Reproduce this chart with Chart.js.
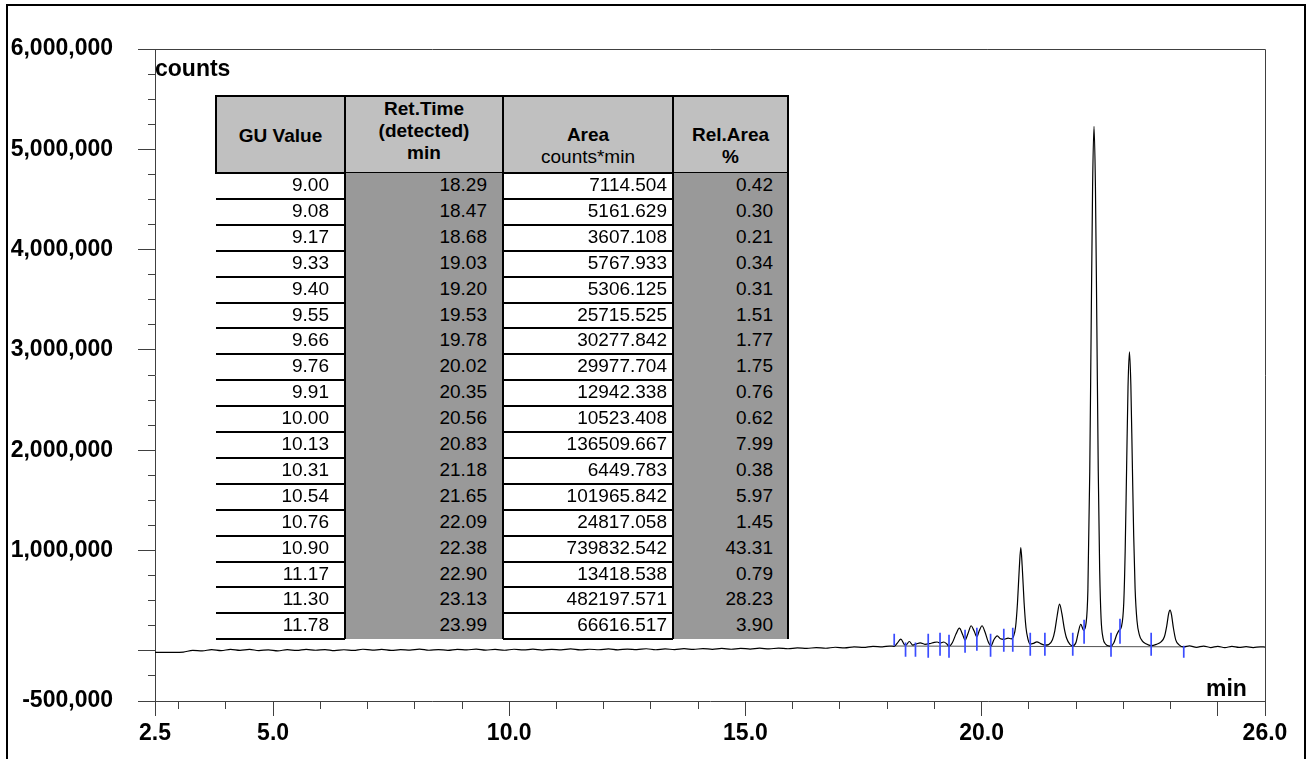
<!DOCTYPE html>
<html><head><meta charset="utf-8">
<script src="https://cdn.jsdelivr.net/npm/chart.js@4/dist/chart.umd.min.js"></script>
<style>
html,body{margin:0;padding:0;background:#fff;}
#wrap{position:relative;width:1308px;height:759px;overflow:hidden;font-family:"Liberation Sans",Arial,sans-serif;color:#000;}
#c{position:absolute;left:0;top:0;}
#frame{position:absolute;left:6px;top:4px;width:1300px;height:770px;border:2px solid #000;box-sizing:border-box;pointer-events:none;}
.ttl{position:absolute;font-weight:bold;font-size:23px;line-height:23px;white-space:nowrap;}
.abs{position:absolute;box-sizing:border-box;}
.hd{background:#c0c0c0;border:2px solid #000;font-weight:bold;font-size:19px;text-align:center;}
.hd div{height:22px;line-height:22px;white-space:nowrap;}
.cell{font-size:19px;text-align:right;white-space:nowrap;}
</style>
</head><body>
<div id="wrap">
<canvas id="c" width="1308" height="759"></canvas>
<div id="tbl"></div>
<div class="ttl" style="left:155px;top:57px;">counts</div>
<div class="ttl" style="left:1206px;top:677px;">min</div>
<div id="frame"></div>
</div>
<script>
// ---------- data ----------
const traceTime = [2.5,2.9,3.1,3.3,3.5,3.7,3.9,4.1,4.3,4.5,4.7,4.9,5.1,5.3,5.5,5.7,5.9,6.1,6.3,6.5,6.7,6.9,7.1,7.3,7.5,7.7,7.9,8.1,8.3,8.5,8.7,8.9,9.1,9.3,9.5,9.7,9.9,10.1,10.3,10.5,10.7,10.9,11.1,11.3,11.5,11.7,11.9,12.1,12.3,12.5,12.7,12.9,13.1,13.3,13.5,13.7,13.9,14.1,14.3,14.5,14.7,14.9,15.1,15.3,15.5,15.7,15.9,16.1,16.3,16.5,16.7,16.9,17.1,17.3,17.5,17.7,17.9,18.05,18.15,18.22,18.29,18.36,18.40,18.47,18.54,18.62,18.70,18.80,18.90,19.00,19.06,19.12,19.20,19.26,19.31,19.38,19.46,19.53,19.60,19.65,19.71,19.78,19.84,19.90,19.95,20.01,20.07,20.14,20.20,20.26,20.33,20.40,20.47,20.56,20.63,20.68,20.72,20.76,20.80,20.83,20.86,20.90,20.94,20.98,21.03,21.10,21.17,21.25,21.34,21.42,21.50,21.55,21.60,21.65,21.70,21.75,21.80,21.87,21.93,22.00,22.05,22.10,22.16,22.21,22.25,22.29,22.32,22.35,22.38,22.41,22.44,22.47,22.50,22.53,22.57,22.63,22.69,22.74,22.80,22.86,22.91,22.96,23.01,23.04,23.07,23.10,23.13,23.16,23.19,23.22,23.25,23.29,23.34,23.40,23.48,23.59,23.70,23.80,23.87,23.92,23.96,23.99,24.02,24.06,24.11,24.18,24.28,24.40,24.55,24.70,24.85,25.00,25.15,25.30,25.45,25.60,25.75,25.90,26.00];
const traceCounts = [-15000,-15000,-12000,5000,0,12000,2000,15000,5000,14000,3000,10000,0,12000,4000,15000,6000,13000,2000,11000,5000,16000,7000,14000,4000,12000,8000,17000,6000,13000,5000,15000,9000,18000,8000,14000,6000,16000,9000,17000,8000,15000,10000,19000,9000,16000,11000,20000,10000,18000,12000,21000,11000,19000,13000,22000,14000,23000,15000,24000,16000,25000,18000,27000,19000,28000,21000,30000,24000,33000,26000,36000,30000,40000,34000,45000,40000,48000,45000,80000,117000,65000,58000,93000,58000,70000,80000,65000,72000,85000,88000,77000,88000,70000,45000,80000,170000,227000,160000,107000,170000,250000,200000,140000,200000,250000,190000,90000,50000,110000,150000,120000,115000,127000,120000,150000,240000,480000,840000,1030000,840000,480000,230000,120000,67000,75000,90000,72000,57000,62000,110000,200000,350000,465000,370000,225000,125000,65000,50000,85000,190000,265000,205000,270000,600000,1790000,3240000,4630000,5230000,4630000,3240000,1790000,800000,320000,130000,65000,50000,48000,80000,160000,205000,240000,480000,1000000,1820000,2630000,2980000,2650000,1900000,1150000,620000,300000,160000,100000,70000,52000,65000,90000,140000,250000,370000,405000,360000,230000,110000,60000,40000,50000,35000,48000,33000,45000,32000,44000,34000,42000,33000,40000,38000];

// integration markers (peak start / end ticks)
const markerTime   = [18.15,18.39,18.60,18.87,19.12,19.31,19.65,19.90,20.19,20.47,20.66,21.03,21.34,21.93,22.17,22.74,22.93,23.59,24.28];
const markerTop    = [170000,83000,83000,170000,180000,160000,210000,230000,170000,220000,230000,180000,180000,180000,310000,180000,320000,180000,50000];
const markerBottom = [50000,-60000,-60000,-70000,-50000,-70000,-20000,0,-60000,-10000,-10000,-50000,-50000,-50000,70000,-60000,70000,-50000,-70000];

// drawn integration baseline
const baselineTime   = [18.15, 24.28];
const baselineCounts = [48000, 40000];

// axis ticks
const xTickValues  = [2.5,3,4,5,6,7,8,9,10,11,12,13,14,15,16,17,18,19,20,21,22,23,24,25,26];
const xLabelValues = [2.5,5,10,15,20,26];
const xLongValues  = [2.5,5,10,15,20,25,26];
const yTickValues  = [-500000,-250000,0,250000,500000,750000,1000000,1250000,1500000,1750000,2000000,2250000,2500000,2750000,3000000,3250000,3500000,3750000,4000000,4250000,4500000,4750000,5000000,5250000,5500000,5750000,6000000];
const yLabelValues = [-500000,1000000,2000000,3000000,4000000,5000000,6000000];
const yLongValues  = [-500000,0,1000000,2000000,3000000,4000000,5000000,6000000];

// peak table
const guValues  = [9.00,9.08,9.17,9.33,9.40,9.55,9.66,9.76,9.91,10.00,10.13,10.31,10.54,10.76,10.90,11.17,11.30,11.78];
const retTimes  = [18.29,18.47,18.68,19.03,19.20,19.53,19.78,20.02,20.35,20.56,20.83,21.18,21.65,22.09,22.38,22.90,23.13,23.99];
const areas     = [7114.504,5161.629,3607.108,5767.933,5306.125,25715.525,30277.842,29977.704,12942.338,10523.408,136509.667,6449.783,101965.842,24817.058,739832.542,13418.538,482197.571,66616.517];
const relAreas  = [0.42,0.30,0.21,0.34,0.31,1.51,1.77,1.75,0.76,0.62,7.99,0.38,5.97,1.45,43.31,0.79,28.23,3.90];

// ---------- table (HTML text) ----------
(function(){
  const tbl = document.getElementById('tbl');
  const cols = [
    {x:216,w:129,gray:false,pad:16,padTop:6,head:['','GU Value',''],bold:[1,1,1],fmt:v=>v.toFixed(2),vals:guValues},
    {x:345,w:158,gray:true, pad:16,padTop:1,head:['Ret.Time','(detected)','min'],bold:[1,1,1],fmt:v=>v.toFixed(2),vals:retTimes},
    {x:503,w:170,gray:false,pad:6, padTop:5,head:['','Area','counts*min'],bold:[1,1,0],fmt:v=>v.toFixed(3),vals:areas},
    {x:673,w:115,gray:true, pad:15,padTop:5,head:['','Rel.Area','%'],bold:[1,1,1],fmt:v=>v.toFixed(2),vals:relAreas}
  ];
  const top=95, headH=79, bodyTop=173, rowH=25.9, n=guValues.length;
  const bodyBottom = bodyTop + rowH*n;
  let html='';
  cols.forEach(c=>{
    html += `<div class="abs hd" style="left:${c.x-1}px;top:${top}px;width:${c.w+2}px;height:${headH}px;padding-top:${c.padTop}px;">` +
      c.head.map((t,i)=>`<div style="font-weight:${c.bold[i]?'bold':'normal'}">${t}</div>`).join('') + '</div>';
    if (c.gray) {
      html += `<div class="abs" style="left:${c.x}px;top:${bodyTop}px;width:${c.w}px;height:${bodyBottom-bodyTop}px;background:#999999;"></div>`;
    }
    c.vals.forEach((v,i)=>{
      const y = bodyTop + rowH*i;
      html += `<div class="abs cell" style="left:${c.x}px;top:${y-1}px;width:${c.w}px;height:${rowH}px;line-height:${rowH}px;padding-right:${c.pad}px;">${c.fmt(v)}</div>`;
      if (!c.gray) {
        html += `<div class="abs" style="left:${c.x}px;top:${y+rowH-1}px;width:${c.w}px;height:2px;background:#000;"></div>`;
      }
    });
  });
  [345,503,673,788].forEach(x=>{
    html += `<div class="abs" style="left:${x-1}px;top:${top}px;width:2px;height:${bodyBottom-top}px;background:#000;"></div>`;
  });
  tbl.innerHTML = html;
})();

// ---------- chart ----------
const tracePts = traceTime.map((t,i)=>({x:t,y:traceCounts[i]}));
const markerPts = [];
markerTime.forEach((t,i)=>{ markerPts.push({x:t,y:markerTop[i]},{x:t,y:markerBottom[i]},{x:t,y:null}); });
const basePts = baselineTime.map((t,i)=>({x:t,y:baselineCounts[i]}));

const fmtComma = v => { const s = Math.abs(v).toString().replace(/\B(?=(\d{3})+(?!\d))/g, ','); return (v<0?'-':'')+s; };
const axisFont = {family:'"Liberation Sans", Arial, sans-serif', size:23, weight:'bold'};
const axisCol = '#404040';

const boxPlugin = {
  id:'box',
  afterDraw(chart){
    const {ctx, chartArea:a} = chart;
    ctx.save();
    ctx.strokeStyle = axisCol; ctx.lineWidth = 1;
    ctx.beginPath();
    ctx.moveTo(a.left, a.top+0.5); ctx.lineTo(a.right+0.5, a.top+0.5);
    ctx.lineTo(a.right+0.5, a.bottom);
    ctx.stroke();
    ctx.restore();
  }
};

new Chart(document.getElementById('c'), {
  type:'line',
  data:{datasets:[
    {data:markerPts, borderColor:'#3a4cff', borderWidth:1.7, pointRadius:0, tension:0, spanGaps:false, order:0},
    {data:tracePts, borderColor:'#000', borderWidth:1.2, pointRadius:0, tension:0.4, cubicInterpolationMode:'monotone', order:1},
    {data:basePts, borderColor:'#505050', borderWidth:1, pointRadius:0, tension:0, order:2}
  ]},
  options:{
    responsive:false, animation:false, devicePixelRatio:1, events:[],
    layout:{padding:{top:49,right:43,left:0,bottom:0}},
    plugins:{legend:{display:false}, tooltip:{enabled:false}},
    scales:{
      x:{type:'linear', min:2.5, max:26,
        afterBuildTicks:s=>{ s.ticks = xTickValues.map(v=>({value:v})); },
        afterFit:s=>{ s.height = 58; },
        ticks:{autoSkip:false, maxRotation:0, minRotation:0, padding:4, color:'#000', font:axisFont,
          callback:v=> xLabelValues.includes(v) ? v.toFixed(1) : ''},
        grid:{drawOnChartArea:false, drawTicks:true, tickLength:15, tickColor:axisCol, tickWidth:1,
          tickBorderDash:ctx=> (ctx.tick && !xLongValues.includes(ctx.tick.value)) ? [7,100] : []},
        border:{display:true, color:axisCol, width:1}
      },
      y:{type:'linear', min:-500000, max:6000000,
        afterBuildTicks:s=>{ s.ticks = yTickValues.map(v=>({value:v})); },
        afterFit:s=>{ s.width = 155; },
        ticks:{autoSkip:false, padding:25, color:'#000', font:axisFont,
          callback:v=> yLabelValues.includes(v) ? fmtComma(v) : ''},
        grid:{drawOnChartArea:false, drawTicks:true, tickLength:17, tickColor:axisCol, tickWidth:1,
          tickBorderDash:ctx=> (ctx.tick && !yLongValues.includes(ctx.tick.value)) ? [7,10] : [],
          tickBorderDashOffset:ctx=> (ctx.tick && !yLongValues.includes(ctx.tick.value)) ? 7 : 0},
        border:{display:true, color:axisCol, width:1}
      }
    }
  },
  plugins:[boxPlugin]
});
</script>
</body></html>
